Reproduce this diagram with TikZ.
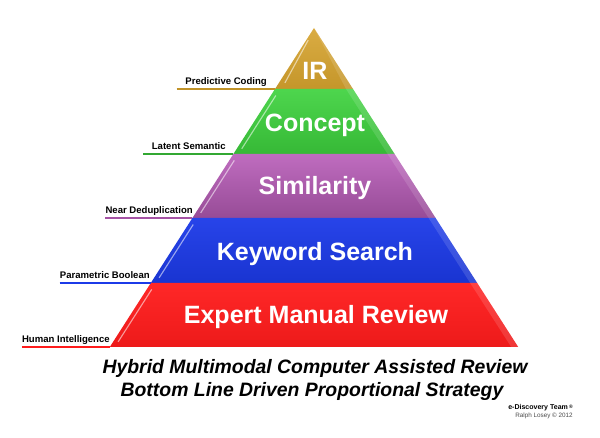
\documentclass[tikz,border=0pt]{standalone}
\usepackage{fontspec}
\setmainfont{Liberation Sans}
\usetikzlibrary{calc}
\definecolor{irgold}{RGB}{214,163,46}
\definecolor{cptgreen}{RGB}{62,210,62}
\definecolor{simpurple}{RGB}{184,92,184}
\definecolor{kwblue}{RGB}{28,58,232}
\definecolor{emred}{RGB}{255,28,28}
\begin{document}
\begin{tikzpicture}[
    x=0.025cm, y=-0.025cm,
    ttl/.style={font=\fontsize{17.8}{20}\selectfont\bfseries, text=white,
                anchor=base, inner sep=0pt},
    lbl/.style={font=\fontsize{6.8}{8}\selectfont\bfseries, anchor=base east,
                inner sep=0pt},
    ul/.style={line width=1.3pt},
    hl/.style={white, opacity=0.55, line width=0.8pt},
    bev/.style={fill=white, opacity=0.13},
    captxt/.style={font=\fontsize{13.8}{16}\selectfont\bfseries\itshape,
                anchor=base, inner sep=0pt}
]
  \useasboundingbox (0,0) rectangle (600,438);

  % ================= pyramid corners =================
  \coordinate (apex) at (314,28);
  \coordinate (l1) at (275,89);    \coordinate (r1) at (353,89);
  \coordinate (l2) at (233.4,154); \coordinate (r2) at (394.6,154);
  \coordinate (l3) at (192.4,218); \coordinate (r3) at (435.6,218);
  \coordinate (l4) at (150.8,283); \coordinate (r4) at (477.2,283);
  \coordinate (l5) at (109.8,347); \coordinate (r5) at (518.2,347);

  % ================= layers =================
  % IR
  \shade[top color=irgold!90!white, bottom color=irgold!92!black]
      (apex) -- (r1) -- (l1) -- cycle;
  \fill[bev] (apex) -- (r1) -- ($(r1)+(-7,0)$) -- cycle;
  \draw[hl] ($(l1)!0.1!(apex)+(6,0)$) -- ($(l1)!0.8!(apex)+(2,0)$);

  % Concept
  \shade[top color=cptgreen!92!white, bottom color=cptgreen!88!black]
      (l1) -- (r1) -- (r2) -- (l2) -- cycle;
  \fill[bev] (r1) -- (r2) -- ($(r2)+(-7,0)$) -- ($(r1)+(-7,0)$) -- cycle;
  \draw[hl] ($(l2)!0.08!(l1)+(5,0)$) -- ($(l2)!0.9!(l1)+(5,0)$);

  % Similarity
  \shade[top color=simpurple!90!white, bottom color=simpurple!82!black]
      (l2) -- (r2) -- (r3) -- (l3) -- cycle;
  \fill[bev] (r2) -- (r3) -- ($(r3)+(-7,0)$) -- ($(r2)+(-7,0)$) -- cycle;
  \draw[hl] ($(l3)!0.08!(l2)+(5,0)$) -- ($(l3)!0.9!(l2)+(5,0)$);

  % Keyword Search
  \shade[top color=kwblue!95!white, bottom color=kwblue!90!black]
      (l3) -- (r3) -- (r4) -- (l4) -- cycle;
  \fill[bev] (r3) -- (r4) -- ($(r4)+(-7,0)$) -- ($(r3)+(-7,0)$) -- cycle;
  \draw[hl] ($(l4)!0.08!(l3)+(5,0)$) -- ($(l4)!0.9!(l3)+(5,0)$);

  % Expert Manual Review
  \shade[top color=emred!95!white, bottom color=emred!93!black]
      (l4) -- (r4) -- (r5) -- (l5) -- cycle;
  \fill[bev] (r4) -- (r5) -- ($(r5)+(-7,0)$) -- ($(r4)+(-7,0)$) -- cycle;
  \draw[hl] ($(l5)!0.08!(l4)+(5,0)$) -- ($(l5)!0.9!(l4)+(5,0)$);

  % ================= layer titles =================
  \node[ttl] (ir)  at (315,80)  {IR};
  \node[ttl] (cpt) at (315,132) {Concept};
  \node[ttl] (sim) at (315,195) {Similarity};
  \node[ttl] (kw)  at (315,261) {Keyword Search};
  \node[ttl] (em)  at (316,324) {Expert Manual Review};

  % ================= side labels =================
  \node[lbl] (pc) at (267,85)  {Predictive Coding};
  \node[lbl] (ls) at (226,150) {Latent Semantic};
  \node[lbl] (nd) at (193,214) {Near Deduplication};
  \node[lbl] (pb) at (150,279) {Parametric Boolean};
  \node[lbl] (hi) at (110,343) {Human Intelligence};

  \draw[ul, irgold!90!black]    ([xshift=-6pt]pc.west |- l1) -- (l1);
  \draw[ul, cptgreen!80!black]  ([xshift=-6pt]ls.west |- l2) -- (l2);
  \draw[ul, simpurple!90!black] (nd.west |- l3) -- (l3);
  \draw[ul, kwblue]             (pb.west |- l4) -- (l4);
  \draw[ul, emred]              (hi.west |- l5) -- (l5);

  % ================= caption =================
  \node[captxt] (cap1) at (315,374) {Hybrid Multimodal Computer Assisted Review};
  \node[captxt] (cap2) at (312,397) {Bottom Line Driven Proportional Strategy};

  \node[font=\fontsize{5}{6}\selectfont\bfseries, anchor=base east,
        inner sep=0pt] (team) at (573,410)
        {e-Discovery Team\,\raisebox{0.3ex}{\fontsize{3.5}{4}\selectfont ®}};
  \node[font=\fontsize{4.5}{5}\selectfont, text=black!70, anchor=base east,
        inner sep=0pt] (copy) at (573,418) {Ralph Losey © 2012};

\end{tikzpicture}
\end{document}
